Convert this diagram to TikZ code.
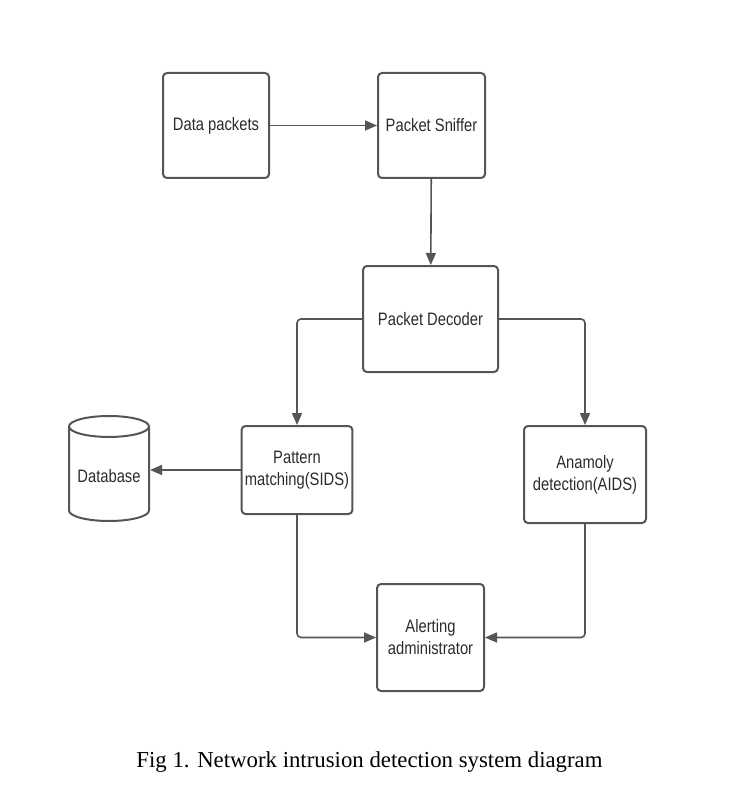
\documentclass[tikz,border=0pt]{standalone}
\usepackage{fontspec}
\setmainfont{Liberation Serif}
\newfontfamily\boxfont[FakeStretch=0.82]{Liberation Sans}
\usetikzlibrary{arrows.meta,shapes.geometric}
\definecolor{edge}{HTML}{555555}
\definecolor{ink}{HTML}{2b2b2b}
\begin{document}
\begin{tikzpicture}[x = 1pt, y = -1pt,
    box/.style = {draw = edge, line width = 2pt, rounded corners = 4pt, align = center,
      text = ink, font = \boxfont\fontsize{18}{22}\selectfont},
    store/.style = {cylinder, shape border rotate = 90, aspect = 0.3, draw = edge,
      line width = 2pt, text = ink, font = \boxfont\fontsize{18}{22}\selectfont},
    link/.style = {draw = edge, line width = 1.6pt, rounded corners = 4pt,
      -{Triangle[length = 12pt, width = 10pt]}}]
  \useasboundingbox (0, 0) rectangle (738, 802);
  \node[box, minimum width = 106, minimum height = 105] (data)  at (216, 125.5) {Data packets};
  \node[box, minimum width = 107, minimum height = 105] (sniff) at (431.5, 125.5) {Packet Sniffer};
  \node[box, minimum width = 135, minimum height = 106] (dec)   at (430.5, 319) {Packet Decoder};
  \node[box, minimum width = 108, minimum height = 88]  (pat)   at (297, 470) {Pattern\\matching(SIDS)};
  \node[box, minimum width = 122, minimum height = 97]  (ano)   at (585, 474.5) {Anamoly\\detection(AIDS)};
  \node[box, minimum width = 107, minimum height = 107] (alert) at (430.5, 637.5) {Alerting\\administrator};
  \node[store, minimum width = 80, minimum height = 105, anchor = south] (db) at (109, 522) {Database};
  \node[anchor = base, font = \fontsize{22.8}{26}\selectfont] (cap) at (369.5, 767)
    {Fig 1. Network intrusion detection system diagram};
  \draw[link] (data) -- (sniff);
  \draw[link] (sniff) -- (dec);
  \draw[link] (dec.west) -| (pat.north);
  \draw[link] (dec.east) -| (ano.north);
  \draw[link] (pat.west) -- (pat.west -| db.east);
  \draw[link] (pat.south) |- (alert.west);
  \draw[link] (ano.south) |- (alert.east);
\end{tikzpicture}
\end{document}
